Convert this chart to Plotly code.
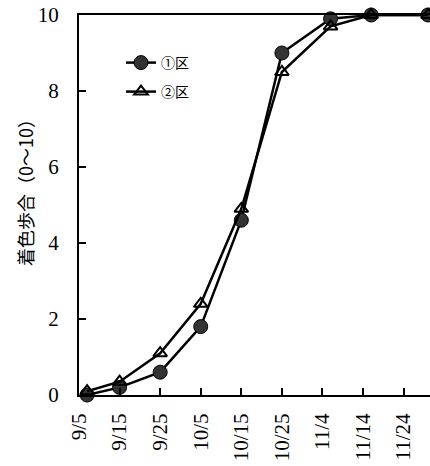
import plotly.graph_objects as go

# x positions: days after 9/5
days = [2, 10, 20, 30, 40, 50, 62, 72, 86]
plot1 = [0.0, 0.2, 0.6, 1.8, 4.6, 9.0, 9.9, 10.0, 10.0]
plot2 = [0.1, 0.35, 1.1, 2.4, 4.9, 8.5, 9.7, 10.0, 10.0]
tick_days = [0, 10, 20, 30, 40, 50, 60, 70, 80]
tick_labels = ["9/5", "9/15", "9/25", "10/5", "10/15", "10/25", "11/4", "11/14", "11/24"]
y_ticks = [0, 2, 4, 6, 8, 10]
names = ["①区", "②区"]
y_title = "着色歩合（0～10）"

fig = go.Figure()
fig.add_trace(go.Scatter(
    x=days, y=plot1, name=names[0], mode="lines+markers",
    line=dict(color="black", width=2.5),
    marker=dict(symbol="circle", size=14, color="#333333",
                line=dict(color="black", width=1)),
    cliponaxis=False, legend="legend"))
fig.add_trace(go.Scatter(
    x=days, y=plot2, name=names[1], mode="lines+markers",
    line=dict(color="black", width=2.5),
    marker=dict(symbol="triangle-up-open", size=12, color="black",
                line=dict(color="black", width=2)),
    cliponaxis=False, legend="legend2"))

serif = "Liberation Serif"
leg_common = dict(bgcolor="rgba(0,0,0,0)", borderwidth=0,
                  font=dict(family="Noto Sans CJK JP", size=14, color="black"),
                  xanchor="left", yanchor="middle", itemclick=False)

fig.add_annotation(text=y_title, xref="paper", yref="paper",
                   x=(25 - 79) / 351, y=(395 - 188) / 380,
                   xanchor="center", yanchor="middle", textangle=-90,
                   showarrow=False,
                   font=dict(family="Noto Sans CJK JP", size=18, color="#000000"))

fig.update_layout(
    width=430, height=466,
    margin=dict(l=79, r=0, t=15, b=71),
    paper_bgcolor="white", plot_bgcolor="white",
    xaxis=dict(range=[0, 86.5], tickmode="array", tickvals=tick_days,
               ticktext=tick_labels, tickangle=-90, ticks="inside", ticklen=7,
               tickwidth=2, tickcolor="black", showline=True, linecolor="black",
               linewidth=2, mirror=True, showgrid=False, zeroline=False,
               automargin=False,
               tickfont=dict(family=serif, size=21, color="black"),
               ticklabelstandoff=8),
    yaxis=dict(range=[0, 10], tickmode="array", tickvals=y_ticks,
               ticks="inside", ticklen=7, tickwidth=1.5, tickcolor="black",
               showline=True, linecolor="black", linewidth=2, showgrid=False,
               zeroline=False, automargin=False,
               tickfont=dict(family=serif, size=21, color="black"),
               ticklabelstandoff=14),
    legend=dict(x=(121 - 79) / 351, y=(395 - 63) / 380, **leg_common),
    legend2=dict(x=(121 - 79) / 351, y=(395 - 92) / 380, **leg_common),
    showlegend=True,
)

fig.write_html("out.html")
